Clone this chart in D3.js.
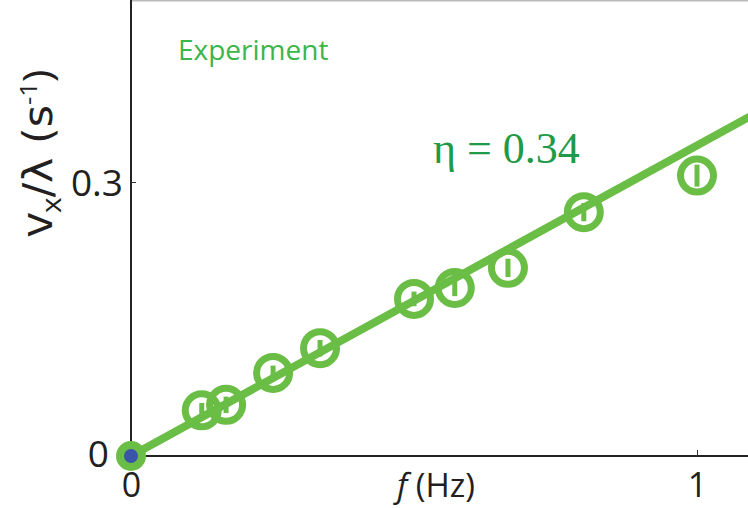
<!DOCTYPE html>
<html>
<head>
<meta charset="utf-8">
<script src="https://cdn.jsdelivr.net/npm/d3@7"></script>
<style>
  body { margin: 0; background: #fff; }
  svg { display: block; }
  .tick text { font-family: "Open Sans", "Noto Sans", sans-serif; }
</style>
</head>
<body>
<svg width="748" height="508"></svg>
<script>
// measured points (frequency in Hz, v_x/lambda in 1/s)
var freq = [0.125, 0.168, 0.251, 0.334, 0.500, 0.572, 0.666, 0.800, 1.000];
var rate = [0.050, 0.056, 0.091, 0.118, 0.172, 0.184, 0.206, 0.267, 0.307];
var errs = [0.008, 0.009, 0.008, 0.009, 0.008, 0.009, 0.010, 0.010, 0.012];
var eta = 0.34;            // slope of fitted line
var fitRange = [0, 1.1];
var xTicks = [0, 1];
var yTicks = [0, 0.3];

var svg = d3.select('svg');
var green = '#6abd45';

var x = d3.scaleLinear().domain([0, 1]).range([131, 697]);
var y = d3.scaleLinear().domain([0, 0.3]).range([456, 182]);

// frame (top line)
svg.append('line')
    .attr('x1', 131).attr('x2', 748)
    .attr('y1', 0.75).attr('y2', 0.75)
    .attr('stroke', '#bbb').attr('stroke-width', 1.5);

// axes, ticks inward
var xAxis = svg.append('g')
    .attr('transform', 'translate(0,456)')
    .call(d3.axisBottom(x).tickValues(xTicks).tickSize(-6).tickPadding(17).tickFormat(d3.format('d')));
xAxis.select('.domain').attr('d', 'M131,0H748').attr('stroke', '#222').attr('stroke-width', 2);
xAxis.selectAll('.tick line').attr('stroke', '#333');
xAxis.selectAll('.tick text').attr('font-size', 34).attr('fill', '#231f20');

var yAxis = svg.append('g')
    .attr('transform', 'translate(131,0)')
    .call(d3.axisLeft(y).tickValues(yTicks).tickSize(-5).tickPadding(8).tickFormat(function(d) { return d === 0 ? '0' : d; }));
yAxis.select('.domain').attr('d', 'M0,0V456').attr('stroke', '#222').attr('stroke-width', 2);
yAxis.selectAll('.tick line').attr('stroke', '#333');
yAxis.selectAll('.tick text').attr('font-size', 37).attr('fill', '#231f20').attr('dy', '0.36em');
yAxis.selectAll('.tick').filter(function(d) { return d === 0; }).select('text').attr('x', -22).attr('y', -3);

// fitted line
svg.append('line')
    .attr('x1', x(fitRange[0])).attr('y1', y(eta * fitRange[0]))
    .attr('x2', x(fitRange[1])).attr('y2', y(eta * fitRange[1]))
    .attr('stroke', green).attr('stroke-width', 8);

// origin point
svg.append('circle')
    .attr('cx', x(0)).attr('cy', y(0)).attr('r', 11)
    .attr('fill', '#3a55a8').attr('stroke', green).attr('stroke-width', 8);

var pts = freq.map(function(f, i) { return {f: f, v: rate[i], e: errs[i]}; });

// error bars
svg.selectAll('.err')
    .data(pts)
    .enter().append('line')
    .attr('class', 'err')
    .attr('x1', function(d) { return x(d.f); })
    .attr('x2', function(d) { return x(d.f); })
    .attr('y1', function(d) { return y(d.v - d.e); })
    .attr('y2', function(d) { return y(d.v + d.e); })
    .attr('stroke', green).attr('stroke-width', 5);

// rings
svg.selectAll('.pt')
    .data(pts)
    .enter().append('circle')
    .attr('class', 'pt')
    .attr('cx', function(d) { return x(d.f); })
    .attr('cy', function(d) { return y(d.v); })
    .attr('r', 16.5)
    .attr('fill', 'none')
    .attr('stroke', green).attr('stroke-width', 7);

// labels
svg.append('text')
    .attr('x', 178).attr('y', 60)
    .attr('font-family', '"Open Sans", sans-serif')
    .attr('font-size', 28)
    .attr('fill', '#3cb54a')
    .text('Experiment');

svg.append('text')
    .attr('x', 433).attr('y', 163)
    .attr('font-family', '"Liberation Serif", "DejaVu Serif", serif')
    .attr('font-size', 44)
    .attr('fill', '#1f9a48')
    .text('η = ' + eta.toFixed(2));

svg.append('text')
    .attr('x', 436).attr('y', 497)
    .attr('text-anchor', 'middle')
    .attr('font-family', '"Open Sans", sans-serif')
    .attr('font-size', 33)
    .attr('fill', '#231f20')
    .call(function(t) {
        t.append('tspan').attr('font-style', 'italic').text('f');
        t.append('tspan').text(' (Hz)');
    });

var yl = svg.append('text')
    .attr('transform', 'translate(52,153) rotate(-90)')
    .attr('text-anchor', 'middle')
    .attr('font-family', '"Open Sans", sans-serif')
    .attr('font-size', 40)
    .attr('textLength', 167)
    .attr('lengthAdjust', 'spacingAndGlyphs')
    .attr('fill', '#231f20');
yl.append('tspan').attr('font-size', 44).text('v');
yl.append('tspan').attr('font-size', 28).attr('dy', 9).text('x');
yl.append('tspan').attr('dy', -9).attr('font-family', '"DejaVu Sans", sans-serif').text('/λ (s');
yl.append('tspan').attr('font-size', 24).attr('dy', -15).text('-1');
yl.append('tspan').attr('dy', 15).text(')');
</script>
</body>
</html>
